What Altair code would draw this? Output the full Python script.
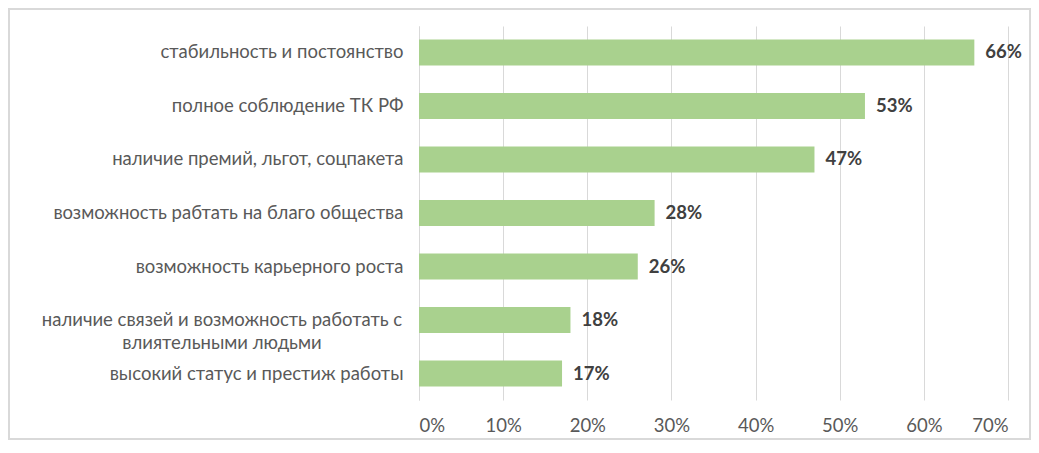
import altair as alt
import pandas as pd

categories = [
    "стабильность и постоянство",
    "полное соблюдение ТК РФ",
    "наличие премий, льгот, соцпакета",
    "возможность рабтать на благо общества",
    "возможность карьерного роста",
    "наличие связей и возможность работать с|влиятельными людьми",
    "высокий статус и престиж работы",
]
values = [0.66, 0.53, 0.47, 0.28, 0.26, 0.18, 0.17]
value_labels = ["66%", "53%", "47%", "28%", "26%", "18%", "17%"]
x_ticks = [0, 0.1, 0.2, 0.3, 0.4, 0.5, 0.6, 0.7]

df = pd.DataFrame({"cat": categories, "val": values, "lab": value_labels})
df["wrapped"] = df["cat"].str.contains("|", regex=False)

FONT = "Lato"
GREY = "#595959"
FS = 18.5

y_enc = alt.Y(
    "cat:N",
    sort=categories,
    title=None,
    scale=alt.Scale(paddingInner=0.51, paddingOuter=0.25),
    axis=alt.Axis(
        labelExpr="indexof(datum.label, '|') >= 0 ? '' : datum.label",
        labelFont=FONT,
        labelFontSize=FS,
        labelColor=GREY,
        labelPadding=16,
        ticks=False,
        domain=True,
        domainColor="#D9D9D9",
        grid=False,
        labelLimit=500,
    ),
)

x_enc = alt.X(
    "val:Q",
    title=None,
    scale=alt.Scale(domain=[0, 0.7]),
    axis=alt.Axis(
        values=x_ticks,
        format=".0%",
        labelFont=FONT,
        labelFontSize=FS,
        labelColor=GREY,
        labelPadding=16,
        ticks=False,
        domain=False,
        grid=True,
        gridColor="#D9D9D9",
        gridWidth=1,
    ),
)

bars = alt.Chart(df).mark_bar(color="#A9D18E").encode(x=x_enc, y=y_enc)

text = alt.Chart(df).mark_text(
    align="left", baseline="middle", dx=11, font=FONT, fontSize=FS,
    fontWeight="bold", color="#404040"
).encode(x="val:Q", y=alt.Y("cat:N", sort=categories), text="lab:N")

wrapped_label = alt.Chart(df).transform_filter(
    "datum.wrapped"
).mark_text(
    align="center", baseline="middle", font=FONT, fontSize=FS, color=GREY,
    lineBreak="|", lineHeight=23
).encode(
    x=alt.value(-197), y=alt.Y("cat:N", sort=categories), text="cat:N"
)

border = alt.Chart(df).mark_rect(
    fill=None, stroke="#D9D9D9", strokeWidth=1.5
).encode(
    x=alt.value(-410), x2=alt.value(611), y=alt.value(-17), y2=alt.value(413)
)

chart = alt.layer(bars, text, wrapped_label, border).properties(
    width=589,
    height=374,
    autosize=alt.AutoSizeParams(type="none"),
    padding={"left": 411, "top": 18, "right": 23, "bottom": 40},
    background="white",
).configure_view(stroke=None)

chart.save("out.html", embed_options={"renderer": "svg", "actions": False})
